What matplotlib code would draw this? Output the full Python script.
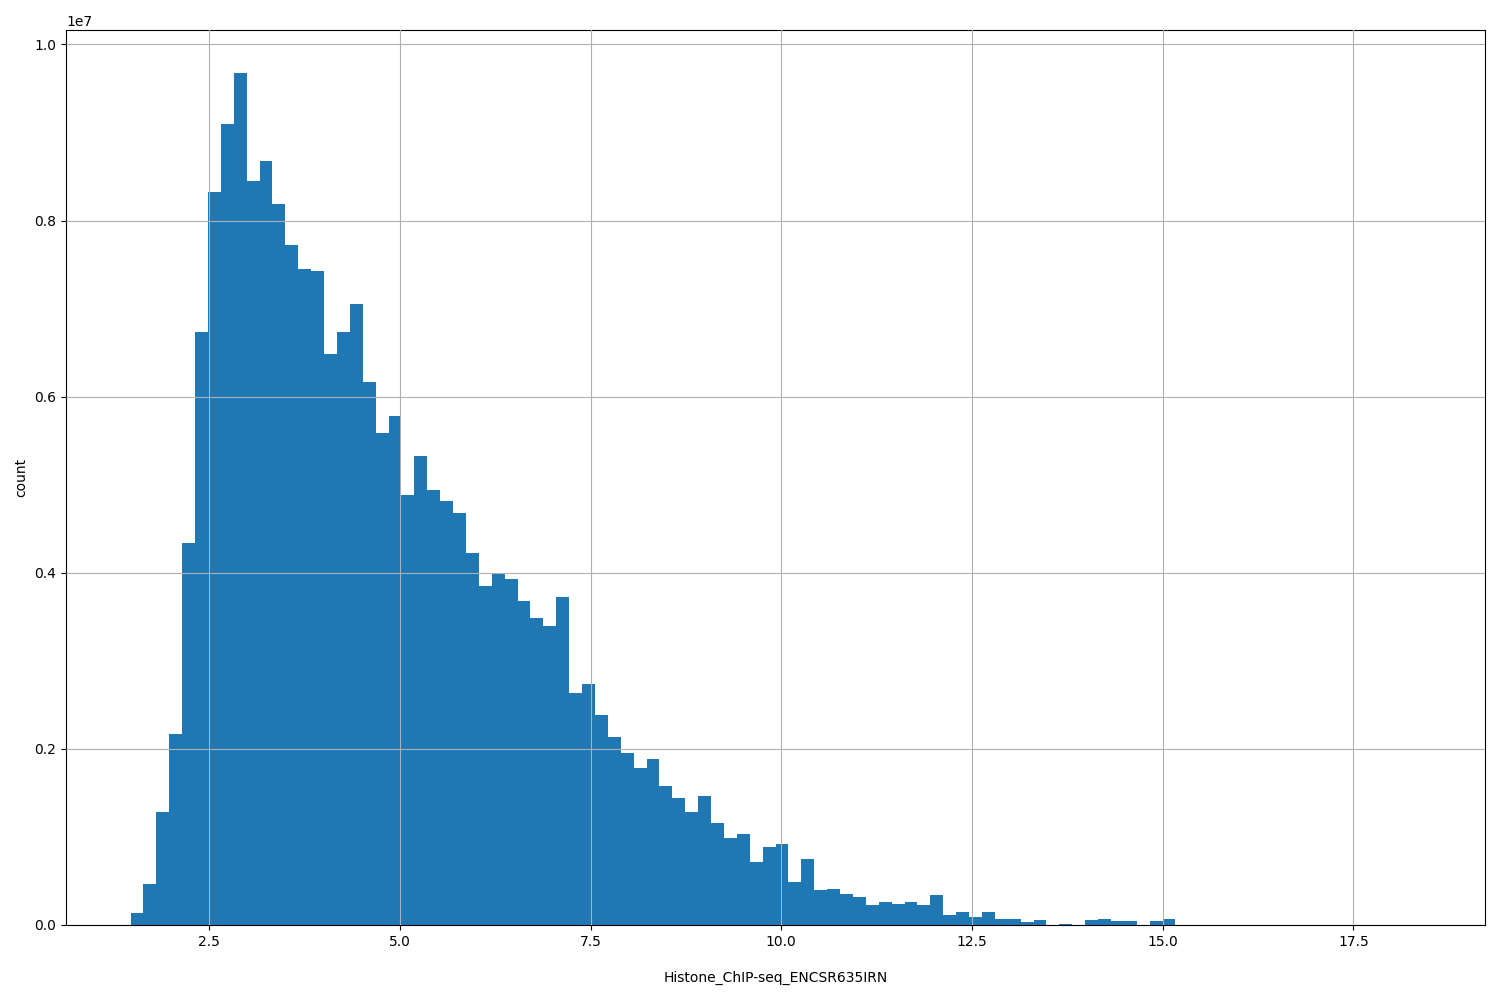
import numpy as np
import matplotlib
matplotlib.use('Agg')
import matplotlib.pyplot as plt

BIN_START = 1.47
BIN_END = 18.38
N_BINS = 100

# counts per bin, in units of 1e6
COUNTS_M = [0.136, 0.47, 1.28, 2.17, 4.34, 6.74, 8.32, 9.10, 9.68, 8.45,
            8.68, 8.19, 7.72, 7.45, 7.43, 6.48, 6.73, 7.05, 6.17, 5.59,
            5.78, 4.88, 5.33, 4.94, 4.81, 4.68, 4.23, 3.85, 4.00, 3.93,
            3.68, 3.49, 3.39, 3.72, 2.64, 2.74, 2.38, 2.14, 1.95, 1.78,
            1.88, 1.58, 1.44, 1.28, 1.47, 1.16, 0.99, 1.03, 0.72, 0.89,
            0.92, 0.49, 0.75, 0.40, 0.41, 0.35, 0.32, 0.23, 0.26, 0.24,
            0.26, 0.23, 0.34, 0.11, 0.15, 0.09, 0.15, 0.07, 0.07, 0.03,
            0.06, 0.0, 0.01, 0.0, 0.06, 0.07, 0.04, 0.04, 0.0, 0.04,
            0.07]
COUNTS_M = COUNTS_M + [0.0] * (N_BINS - len(COUNTS_M))


def main():
    edges = np.linspace(BIN_START, BIN_END, N_BINS + 1)
    counts = np.array(COUNTS_M) * 1e6

    fig, ax = plt.subplots(figsize=(15, 10), dpi=100)
    ax.hist(edges[:-1], bins=edges, weights=counts, color='#1f77b4')
    ax.grid(True)
    ax.set_axisbelow(False)
    ax.set_xlabel('Histone_ChIP-seq_ENCSR635IRN', labelpad=16)
    ax.set_ylabel('count')
    fig.subplots_adjust(left=0.044, right=0.99, top=0.97, bottom=0.075)
    fig.savefig('out.png')


if __name__ == '__main__':
    main()
